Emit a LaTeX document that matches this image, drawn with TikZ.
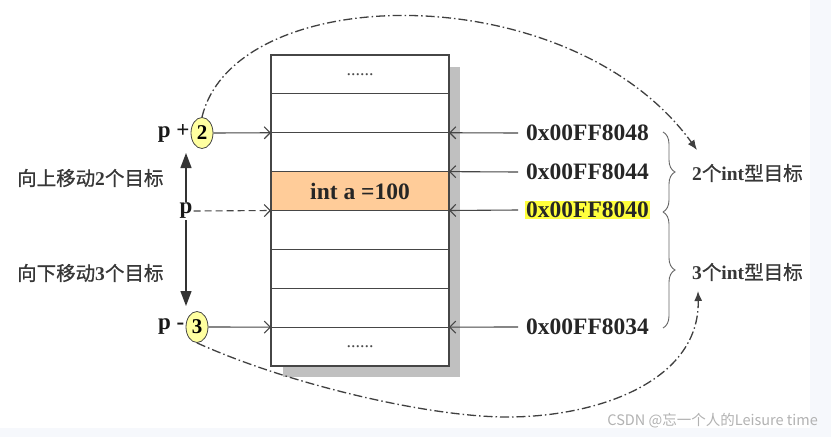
\documentclass[tikz,border=0pt]{standalone}
\usepackage{fontspec}
\setmainfont{Liberation Serif}
\newfontfamily\cjk[BoldFont={Noto Sans CJK SC},BoldFeatures={FakeBold=0.9}]{Noto Sans CJK SC}
\usetikzlibrary{arrows.meta,decorations.pathreplacing,shapes.geometric,calc}
\definecolor{ln}{RGB}{70,70,70}
\definecolor{org}{RGB}{255,204,153}
\definecolor{pale}{RGB}{255,255,160}
\definecolor{hl}{RGB}{255,255,60}
\definecolor{shd}{RGB}{192,192,192}
\definecolor{lbl}{RGB}{55,55,55}
\definecolor{bgs}{RGB}{246,248,252}
\begin{document}
\begin{tikzpicture}[x=1pt,y=-1pt,
  rowbox/.style={draw=ln,line width=1.1pt,minimum width=178pt,minimum height=38.875pt,inner sep=0pt,outer sep=0pt,fill=white},
  ell/.style={ellipse,draw=ln,line width=0.8pt,fill=pale,minimum width=22pt,minimum height=31pt,inner sep=0pt,font=\bfseries\fontsize{21}{21}\selectfont},
  ptxt/.style={inner sep=1pt,text=black!90,font=\bfseries\fontsize{23}{23}\selectfont},
  addr/.style={inner sep=1pt,outer sep=7pt,text=black!85,font=\bfseries\fontsize{23.5}{23.5}\selectfont},
  lab/.style={inner sep=1pt,text=lbl,font=\bfseries\fontsize{19.5}{19.5}\selectfont},
  ptr/.style={draw=ln,line width=1.1pt,-{Straight Barb[length=6pt,width=12pt]}},
  varr/.style={draw=black!80,line width=1.3pt,-{Triangle[length=15pt,width=11pt]}},
  brc/.style={draw=black!60,line width=0.9pt,decorate,decoration={brace,amplitude=12pt,aspect=0.5}},
  dd/.style={draw=black!75,line width=1.3pt,dash pattern=on 9pt off 3pt on 1.5pt off 3pt,-{Latex[length=10pt,width=8pt]}},
  wm/.style={inner sep=0pt,text=black!30,font=\cjk\fontsize{14.5}{14.5}\selectfont}]
\useasboundingbox (0,0) rectangle (831,437);
\fill[white] (0,0) rectangle (831,437);
\fill[bgs] (810,0) rectangle (831,437);
\fill[bgs] (0,428) rectangle (831,437);
% shadow
\fill[shd] (283,67) rectangle (460,377);
% memory rows
\node[rowbox] (r1) at (360,74.44) {\fontsize{18}{18}\selectfont\color{black!70}......};
\node[rowbox] (r2) at (360,113.31) {};
\node[rowbox] (r3) at (360,152.19) {};
\node[rowbox,fill=org] (r4) at (360,191.06) {\bfseries\fontsize{23.5}{23.5}\selectfont\color{black!85}int a =100};
\node[rowbox] (r5) at (360,229.94) {};
\node[rowbox] (r6) at (360,268.81) {};
\node[rowbox] (r7) at (360,307.69) {};
\node[rowbox] (r8) at (360,346.56) {\fontsize{18}{18}\selectfont\color{black!70}......};
% pointers on the left
\node[ell] (e2) at (202,133) {2};
\node[ptxt,anchor=east] (pp) at (e2.west) {p +};
\node[ptxt] (pm) at (186,211) {p};
\node[ell] (e3) at (197,327) {3};
\node[ptxt,anchor=east] (pn) at (e3.west) {p -};
\draw[ptr] (e2.east) -- (r2.south west);
\draw[ptr,dash pattern=on 7pt off 4pt] (pm.east) -- (r4.south west);
\draw[ptr] (e3.east) -- (r7.south west);
\coordinate (upT) at (186,153);
\coordinate (dnT) at (186,306);
\draw[varr] (pm.north) -- (upT);
\draw[varr] (pm.south) -- (dnT);
\node[lab,anchor=west] (lu) at (16,178) {{\cjk 向上移动}2{\cjk 个目标}};
\node[lab,anchor=west] (ld) at (16,273) {{\cjk 向下移动}3{\cjk 个目标}};
% addresses
\node[addr] (a48) at (587.5,133) {0x00FF8048};
\node[addr] (a44) at (587.5,172) {0x00FF8044};
\node[addr,fill=hl] (a40) at (587.5,210) {0x00FF8040};
\node[addr] (a34) at (587.5,327) {0x00FF8034};
\draw[ptr] (a48.west) -- (r2.south east);
\draw[ptr] (a44.west) -- (r3.south east);
\draw[ptr] (a40.west) -- (r4.south east);
\draw[ptr] (a34.west) -- (r7.south east);
% braces
\coordinate (b1) at (663,132);
\coordinate (b2) at (663,212);
\coordinate (b3) at (663,328);
\draw[brc] (b1) -- (b2);
\draw[brc] (b2) -- (b3);
\node[lab,anchor=west] (l2) at (691,173) {2{\cjk 个}int{\cjk 型目标}};
\node[lab,anchor=west] (l3) at (691,272) {3{\cjk 个}int{\cjk 型目标}};
% dash-dot curves
\coordinate (t2) at (697,150);
\draw[dd] (e2.north) .. controls (235,-20) and (570,-25) .. (t2);
\coordinate (m3) at (507,417);
\coordinate (t3) at (698,291);
\draw[dd] (e3.south) .. controls (290,385) and (430,417) .. (m3) .. controls (600,417) and (700,380) .. (t3);
% watermark
\node[wm,anchor=east] (wmk) at (818,421) {CSDN @忘一个人的Leisure time};
\end{tikzpicture}
\end{document}
